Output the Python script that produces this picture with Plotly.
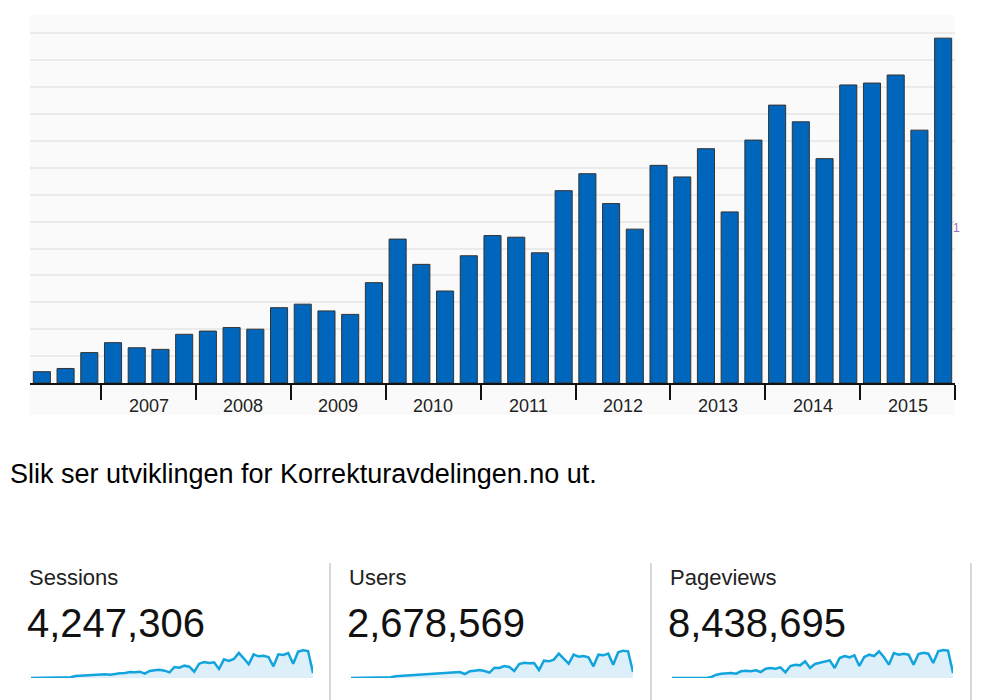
import plotly.graph_objects as go

# quarterly sessions (relative units), 2006 Q2 .. 2015 Q4
quarters = [f"{y} Q{q}" for y in range(2006, 2016) for q in range(1, 5)][1:]
sessions_q = [0.42, 0.54, 1.13, 1.50, 1.31, 1.25, 1.81, 1.93, 2.06, 2.00,
              2.80, 2.93, 2.68, 2.55, 3.73, 5.35, 4.41, 3.42, 4.73, 5.48,
              5.42, 4.84, 7.15, 7.78, 6.67, 5.72, 8.09, 7.66, 8.71, 6.36,
              9.03, 10.33, 9.71, 8.34, 11.08, 11.15, 11.45, 9.40, 12.82]
years = ["2007", "2008", "2009", "2010", "2011", "2012", "2013", "2014", "2015"]

caption = "Slik ser utviklingen for Korrekturavdelingen.no ut."

metric_names = ["Sessions", "Users", "Pageviews"]
metric_totals = ["4,247,306", "2,678,569", "8,438,695"]

spark_sessions = [0, 0, 0, 0, 0, 0, 0, 0, 2, 6, 7, 7, 9, 8, 10, 11, 10, 13,
                  14, 15, 18, 17, 19, 13, 21, 23, 25, 22, 17, 33, 31, 37, 34, 19,
                  43, 48, 45, 47, 27, 56, 51, 57, 75, 59, 41, 71, 65, 67, 63, 35,
                  71, 69, 75, 43, 79, 83, 81, 15]
spark_users = [0, 0, 0, 0, 0, 0, 0, 0, 2, 5, 6, 7, 8, 8, 9, 10, 10, 12,
               13, 14, 16, 16, 18, 12, 20, 22, 24, 21, 16, 31, 30, 36, 33, 21,
               42, 46, 44, 45, 24, 52, 50, 55, 73, 58, 43, 70, 64, 66, 62, 35,
               70, 68, 73, 40, 77, 82, 80, 18]
spark_pageviews = [0, 0, 0, 0, 0, 0, 0, 0, 3, 10, 13, 14, 15, 13, 20, 22, 20, 23,
                   18, 28, 30, 28, 32, 17, 36, 40, 38, 50, 30, 42, 45, 50, 53, 30,
                   60, 66, 62, 68, 36, 63, 70, 66, 80, 62, 40, 75, 70, 73, 70, 40,
                   72, 76, 73, 45, 80, 84, 82, 15]
sparks = [spark_sessions, spark_users, spark_pageviews]

# page body has an 8px margin, so the figure is a bit smaller than the window
OFF = 8
W, H = 1000 - OFF, 700 - OFF


def px(x):
    return (x - OFF) / W


def py(y):
    return 1 - (y - OFF) / H


fig = go.Figure()

fig.add_trace(go.Bar(
    x=list(range(len(sessions_q))), y=sessions_q, customdata=quarters,
    hovertemplate="%{customdata}: %{y}<extra></extra>",
    marker=dict(color="#0066bb", line=dict(color="#333333", width=1)),
    xaxis="x", yaxis="y",
))

spark_x = [(31, 313), (351, 633), (672, 953)]
for i, vals in enumerate(sparks):
    n = str(i + 2)
    fig.add_trace(go.Scatter(
        x=list(range(len(vals))), y=vals, mode="lines",
        line=dict(color="#12a4dc", width=2.5),
        fill="tozeroy", fillcolor="#ddf0f9",
        xaxis="x" + n, yaxis="y" + n, hoverinfo="skip",
    ))
    fig.layout["xaxis" + n] = dict(domain=[px(spark_x[i][0]), px(spark_x[i][1])],
                                   range=[0, len(vals) - 1], visible=False,
                                   anchor="y" + n)
    fig.layout["yaxis" + n] = dict(domain=[py(678), py(648)], range=[0, 90],
                                   visible=False, anchor="x" + n)

boundaries = [2.5 + 4 * k for k in range(10)]
fig.update_layout(
    width=W, height=H, margin=dict(l=0, r=0, t=0, b=0),
    paper_bgcolor="white", plot_bgcolor="rgba(0,0,0,0)",
    showlegend=False, bargap=0.28,
    font=dict(family="Arial, Liberation Sans, sans-serif", color="#111"),
    xaxis=dict(domain=[px(30), px(955)], range=[-0.5, 38.5],
               showgrid=False, zeroline=False, showline=True,
               linecolor="#111", linewidth=2,
               tickmode="array", tickvals=boundaries,
               ticktext=[""] * len(boundaries), ticks="outside",
               ticklen=15, tickwidth=2, tickcolor="#111"),
    yaxis=dict(domain=[py(383), py(15)], range=[0, 13.68],
               dtick=1, showgrid=True, gridcolor="#ebebeb", gridwidth=2,
               zeroline=False, showticklabels=False, ticks=""),
)

shapes = [dict(type="rect", xref="paper", yref="paper",
               x0=px(30), x1=px(955), y0=py(415), y1=py(15),
               fillcolor="#fafafa", line=dict(width=0), layer="below")]
for sx in [330, 651, 971]:
    shapes.append(dict(type="line", xref="paper", yref="paper",
                       x0=px(sx), x1=px(sx), y0=py(563), y1=0,
                       line=dict(color="#d9d9d9", width=2)))
fig.update_layout(shapes=shapes)

ann = []
for k, yr in enumerate(years):
    ann.append(dict(x=4.5 + 4 * k, y=py(406), xref="x", yref="paper",
                    text=yr, showarrow=False, xanchor="center", yanchor="middle",
                    font=dict(size=18, color="#222")))
ann.append(dict(x=px(951), y=py(228), xref="paper", yref="paper", text="1",
                showarrow=False, xanchor="left", yanchor="middle",
                font=dict(size=12, color="#9a6fb5")))
ann.append(dict(x=px(8), y=py(474), xref="paper", yref="paper", text=caption,
                showarrow=False, xanchor="left", yanchor="middle",
                font=dict(size=27, color="#000")))
for i, (name, total) in enumerate(zip(metric_names, metric_totals)):
    x0 = [27, 347, 668][i]
    ann.append(dict(x=px(x0), y=py(577), xref="paper", yref="paper", text=name,
                    showarrow=False, xanchor="left", yanchor="middle",
                    font=dict(size=22, color="#222")))
    ann.append(dict(x=px(x0 - 2), y=py(623), xref="paper", yref="paper", text=total,
                    showarrow=False, xanchor="left", yanchor="middle",
                    font=dict(size=40, color="#111")))
fig.update_layout(annotations=ann)

fig.write_html("out.html")
